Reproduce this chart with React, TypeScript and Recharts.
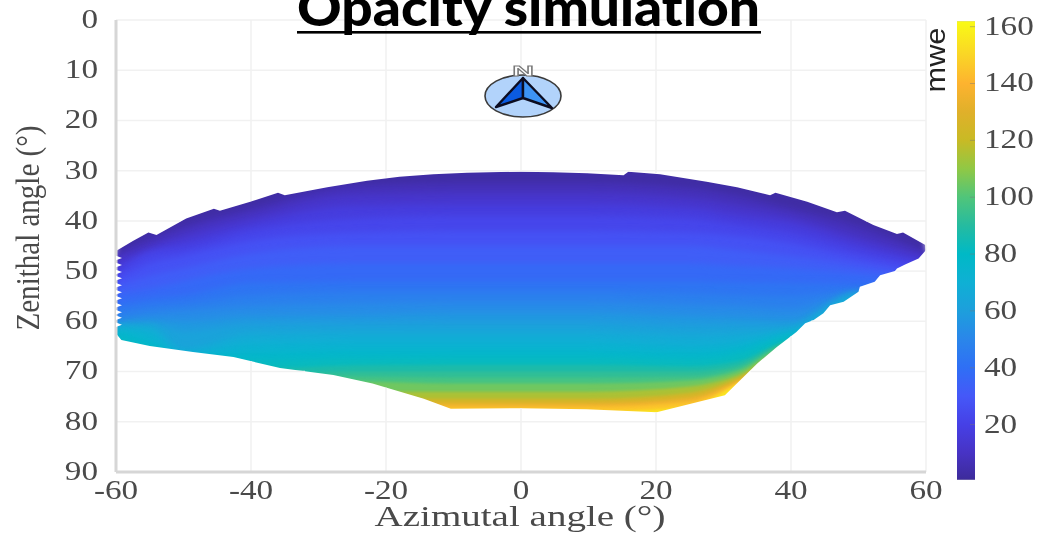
import { Area, ComposedChart, ReferenceLine, Scatter, XAxis, YAxis } from 'recharts'

const azimuthTicks = [-60, -40, -20, 0, 20, 40, 60]
const zenithTicks = [0, 10, 20, 30, 40, 50, 60, 70, 80, 90]
const mweTicks = [20, 40, 60, 80, 100, 120, 140, 160]

// azimuths where the iso-opacity contours were read
const contourAzimuths = [-60, -55, -50, -40, -25, -10, 0, 10, 25, 32, 40, 50, 60]
const contourLevels = [0, 5, 10, 15, 20, 25, 30, 35, 40, 45, 50, 55, 60, 65, 70, 75, 80, 85, 90, 95, 100, 110, 120, 130, 140, 150]
// zenith of each contour, one row per level
const contourZenith = [
  [25, 25, 25, 25, 25, 25, 25, 25, 25, 25, 25, 25, 25],
  [46.5, 43.5, 41, 37.5, 33, 32.5, 32.5, 32.5, 33.5, 35, 37.5, 41, 46],
  [47.5, 45, 42.5, 39, 34.8, 34.5, 34.5, 34.5, 35.5, 37, 39, 43, 47],
  [49, 45.8, 44, 40.5, 37, 36.7, 36.7, 36.7, 37.5, 39, 40.5, 44.5, 48],
  [50.5, 46.5, 45.5, 42, 39.5, 39, 39, 39, 39.5, 40.8, 42.5, 46, 49],
  [51.8, 48.5, 47, 44, 42.3, 42, 42, 42, 42.3, 43, 44.5, 47.5, 50],
  [53, 51, 49.5, 46.5, 45, 45, 45, 45, 45, 45.8, 47, 49, 51],
  [54.5, 53.5, 52, 49.5, 48.5, 48.5, 48.5, 48.5, 48.5, 49, 49.5, 50.5, 52],
  [56.5, 55.5, 54.8, 52.3, 52, 52, 52, 52, 52, 52.2, 52.3, 52.5, 53],
  [58, 57, 56.5, 54.8, 54.2, 54.2, 54.2, 54.2, 54.5, 54.8, 55, 53.8, 55],
  [59.5, 58.5, 58, 57, 56.5, 56.3, 56.3, 56.3, 56.8, 57, 57.5, 54, 56],
  [60.4, 59.8, 60, 59, 58.8, 58.4, 58.4, 58.4, 59, 59.2, 59.5, 54.3, 57],
  [60.8, 60.5, 62, 60.7, 60.5, 60.4, 60.4, 60.4, 61, 60.8, 60.8, 54.6, 58],
  [61, 61.1, 65.5, 62.5, 62.2, 62.2, 62.2, 62.2, 62.8, 62.5, 61.4, 55, 59],
  [61.4, 62.2, 66.5, 64.3, 64, 64, 64, 64, 64.8, 64.2, 62, 60, 60],
  [62, 64, 67, 66.2, 65.8, 65.8, 65.8, 65.8, 66.3, 65.5, 62.7, 61, 61],
  [63.7, 65.5, 68, 68, 67.5, 67.4, 67.4, 67.4, 67.8, 66.8, 63.3, 62, 62],
  [65, 66, 69, 69.5, 68.8, 68.7, 68.7, 68.7, 69, 68, 63.8, 63, 63],
  [66, 67, 70, 71, 70, 70, 70, 70, 70, 68.8, 64.2, 64, 64],
  [67, 68, 71, 72, 71, 71.2, 71.2, 71.2, 71, 69.5, 64.6, 65, 65],
  [68, 69, 72, 73, 72, 72.4, 72.4, 72.4, 71.8, 70, 65, 66, 66],
  [69, 70, 73, 74, 74, 74, 74, 74, 73, 70.8, 65.4, 67, 67],
  [70, 71, 74, 75, 75.4, 75.4, 75.4, 75.4, 74.2, 71.4, 65.8, 68, 68],
  [71, 72, 75, 76, 76.3, 76.3, 76.3, 76.3, 75.2, 71.9, 66.1, 69, 69],
  [72, 73, 76, 77, 77, 77, 77, 77, 76, 72.3, 66.4, 70, 70],
  [73, 74, 77, 78, 78, 78, 78, 78, 77, 72.6, 66.7, 71, 71],
]

// outline of the simulated region
const topAzimuths = [-60, -57.5, -55.2, -54, -49.6, -45.5, -44.6, -40.1, -36, -35, -28.7, -22.8, -18, -13, -8, 0, 4.8, 9.8, 15.2, 15.9, 20.6, 27.5, 32, 36.9, 37.7, 42.4, 46.8, 48, 52.2, 55.7, 56.6, 59.9, 60]
const topZenith = [46, 44, 42.3, 42.8, 39.5, 37.6, 38, 36.2, 34.4, 34.9, 33.3, 32, 31.2, 30.7, 30.4, 30.2, 30.3, 30.5, 30.9, 30.2, 30.7, 32.2, 33.3, 34.9, 34.4, 36.2, 38.3, 38, 40.8, 42.6, 42.3, 44.8, 45.8]
const bottomAzimuths = [-60, -59.2, -55, -48.6, -42.6, -35.7, -27.8, -22, -14.4, -10.4, 0, 9.7, 20.1, 30.2, 35, 37.9, 40.8, 42.1, 43.3, 44.8, 45.8, 47.8, 50, 50.2, 52.4, 53.2, 55.4, 55.7, 56.9, 58.9, 60]
const bottomZenith = [62.4, 63.7, 64.9, 66.1, 67.1, 69.3, 70.7, 72.4, 75.4, 77.4, 77.3, 77.5, 78.1, 74.7, 68.4, 65.1, 62.1, 60.4, 59.8, 58.4, 56.8, 56.1, 54.1, 53.1, 52.1, 50.8, 50, 49.5, 48.7, 47.5, 45.8]
const leftTeeth = [47.4, 48.8, 50.2, 51.4, 52.8, 54.2, 55.4, 56.8, 58.2, 59.3, 60.7]

// grid pieces left visible around the region: [fixed value, from, to]
const gridRows = [[0, -60, 60], [10, -60, 60], [20, -60, 60], [30, -60, 60], [40, -60, -50.5], [40, 51.2, 60], [50, 55.6, 60], [60, 43, 60], [70, -60, -32], [70, 34, 60], [80, -60, 60]]
const gridColumns = [[-40, 0, 36], [-40, 67.9, 90], [-20, 0, 31.4], [-20, 73.2, 90], [0, 0, 30], [0, 77.3, 90], [20, 0, 30.5], [20, 78.1, 90], [40, 0, 35.2], [40, 63, 90], [60, 0, 90]]

const colorStops: [number, string][] = [
  [0, '#3d2b9a'], [10, '#4733c4'], [20, '#4640e6'], [30, '#4558f8'], [40, '#2f6ff5'], [50, '#2a86ea'],
  [60, '#1d9fdc'], [70, '#0fb0d4'], [80, '#00b9c6'], [90, '#25bba0'], [100, '#50c57a'], [110, '#90c845'],
  [120, '#c8ba25'], [130, '#e0b02a'], [140, '#fdb32f'], [150, '#fad526'], [162, '#f9fb15'],
]

function hex(c: string) {
  return [1, 3, 5].map((i) => parseInt(c.slice(i, i + 2), 16))
}

function colorAt(v: number) {
  for (let i = 0; i < colorStops.length - 1; i++) {
    const [a, ca] = colorStops[i]
    const [b, cb] = colorStops[i + 1]
    if (v <= b) {
      const t = (v - a) / (b - a)
      const x = hex(ca)
      const y = hex(cb)
      return `rgb(${x.map((p, k) => Math.round(p + (y[k] - p) * t)).join(',')})`
    }
  }
  return colorStops[colorStops.length - 1][1]
}

const bandData = contourAzimuths.map((az, col) => {
  const row: Record<string, number | number[]> = { az }
  contourLevels.forEach((_, i) => {
    row[`c${i}`] = [contourZenith[i][col], 90]
  })
  return row
})
const topMask = topAzimuths.map((az, i) => ({ az, span: [0, topZenith[i]] }))
const bottomMask = bottomAzimuths.map((az, i) => ({ az, span: [bottomZenith[i], 90] }))
const teeth = leftTeeth.map((z) => ({ az: -60, z }))
const barData = [{ x: 0, span: [0.5, 162] }, { x: 1, span: [0.5, 162] }]

const tickColor = '#4a4a4a'
const gridColor = '#f1f1f1'
const serif = '"Liberation Serif", serif'

function StretchedTick({ x, y, payload, anchor, dx, dy }: any) {
  return (
    <text
      transform={`translate(${x + (dx ?? 0)},${y + (dy ?? 0)}) scale(1.23,1)`}
      textAnchor={anchor}
      dominantBaseline="central"
      fontFamily={serif}
      fontSize={27}
      fill={tickColor}
    >
      {payload.value}
    </text>
  )
}

function Tooth({ cx, cy }: any) {
  return <path d={`M${cx - 2},${cy - 3}L${cx + 6},${cy}L${cx - 2},${cy + 3}Z`} fill="#fff" />
}

function Compass() {
  return (
    <g>
      <ellipse cx={523} cy={96} rx={38} ry={21} fill="#b2d3fb" stroke="#3a3a3a" strokeWidth={1.6} />
      <path d="M523,78L496,107L523,98Z" fill="#0b5be0" stroke="#0c0c20" strokeWidth={2.4} strokeLinejoin="round" />
      <path d="M523,78L552,108L523,98Z" fill="#3d93f5" stroke="#0c0c20" strokeWidth={2.4} strokeLinejoin="round" />
      <text transform="translate(523,76) scale(2,1)" textAnchor="middle" fontFamily='"Liberation Sans", sans-serif' fontWeight={700} fontSize={15} fill="#fff" stroke="#777" strokeWidth={0.8}>N</text>
    </g>
  )
}

export default function App() {
  return (
    <div style={{ position: 'absolute', left: 0, top: 0, width: 1038, height: 533, overflow: 'hidden', background: '#fff', filter: 'blur(0.55px)' }}>
      <div style={{ position: 'absolute', left: 0, top: 0 }}>
        <ComposedChart width={1038} height={533} data={bandData} margin={{ top: 20, right: 112, bottom: 21, left: 56 }}>
          <XAxis
            dataKey="az"
            type="number"
            domain={[-60, 60]}
            ticks={azimuthTicks}
            interval={0}
            height={40}
            allowDataOverflow
            stroke="#d6d6d6"
            strokeWidth={3}
            tickLine={false}
            tick={<StretchedTick anchor="middle" dy={10} />}
          />
          <YAxis
            type="number"
            domain={[0, 90]}
            ticks={zenithTicks}
            reversed
            interval={0}
            width={60}
            allowDataOverflow
            stroke="#d6d6d6"
            strokeWidth={3}
            tickLine={false}
            tick={<StretchedTick anchor="end" dx={-10} dy={-1} />}
          />
          {contourLevels.map((level, i) => (
            <Area
              key={level}
              dataKey={`c${i}`}
              type="monotone"
              fill={colorAt(level + (i < contourLevels.length - 1 ? (contourLevels[i + 1] - level) / 2 : 5))}
              fillOpacity={1}
              stroke="none"
              dot={false}
              activeDot={false}
              isAnimationActive={false}
              style={{ filter: `blur(${level < 85 ? 3 : 1.4}px)` }}
            />
          ))}
          <Area data={topMask} dataKey="span" type="linear" fill="#fff" fillOpacity={1} stroke="none" dot={false} activeDot={false} isAnimationActive={false} />
          <Area data={bottomMask} dataKey="span" type="linear" fill="#fff" fillOpacity={1} stroke="none" dot={false} activeDot={false} isAnimationActive={false} />
          <Scatter data={teeth} dataKey="z" shape={<Tooth />} isAnimationActive={false} />
          {gridRows.map(([z, from, to]) => (
            <ReferenceLine key={`r${z}${from}`} segment={[{ x: from, y: z }, { x: to, y: z }]} stroke={gridColor} strokeWidth={1.5} ifOverflow="visible" />
          ))}
          {gridColumns.map(([az, from, to]) => (
            <ReferenceLine key={`c${az}${from}`} segment={[{ x: az, y: from }, { x: az, y: to }]} stroke={gridColor} strokeWidth={1.5} ifOverflow="visible" />
          ))}
        </ComposedChart>
      </div>

      <div style={{ position: 'absolute', left: 957, top: 0 }}>
        <ComposedChart width={81} height={533} data={barData} margin={{ top: 21, right: 0, bottom: 53, left: 0 }}>
          <defs>
            <linearGradient id="mweBar" x1="0" y1="1" x2="0" y2="0">
              {colorStops.map(([v, c]) => (
                <stop key={v} offset={(v - 0.5 < 0 ? 0 : v - 0.5) / 161.5} stopColor={c} />
              ))}
            </linearGradient>
          </defs>
          <XAxis dataKey="x" type="number" domain={[0, 1]} hide />
          <YAxis
            orientation="right"
            type="number"
            domain={[0.5, 162]}
            ticks={mweTicks}
            interval={0}
            width={63}
            allowDataOverflow
            axisLine={false}
            tickLine={false}
            tick={<StretchedTick anchor="start" dx={1} dy={-1} />}
          />
          <Area dataKey="span" type="linear" fill="url(#mweBar)" fillOpacity={1} stroke="#c9c9c9" strokeWidth={0.6} dot={false} activeDot={false} isAnimationActive={false} />
          {mweTicks.map((v) => (
            <ReferenceLine key={v} segment={[{ x: 0.72, y: v }, { x: 1, y: v }]} stroke="#777" strokeOpacity={0.45} strokeWidth={1} />
          ))}
        </ComposedChart>
      </div>

      <svg width={1038} height={533} style={{ position: 'absolute', left: 0, top: 0 }}>
        <text x={297} y={26} fontFamily="Lato, sans-serif" fontWeight={900} fontSize={52} fill="#000" textLength={463} lengthAdjust="spacingAndGlyphs" style={{ fontVariantLigatures: 'none' }}>Opacity simulation</text>
        <rect x={297} y={31} width={464} height={2.6} fill="#000" />
        <Compass />
        <text x={520} y={526} textAnchor="middle" fontFamily={serif} fontSize={29.5} fill={tickColor} textLength={291} lengthAdjust="spacingAndGlyphs">Azimutal angle (°)</text>
        <text transform="translate(39,228) rotate(-90) scale(1,1.3)" textAnchor="middle" fontFamily={serif} fontSize={26} fill={tickColor} textLength={205} lengthAdjust="spacingAndGlyphs">Zenithal angle (°)</text>
        <text transform="translate(945,60) rotate(-90)" textAnchor="middle" fontFamily='"Liberation Sans", sans-serif' fontSize={27} fill="#222" textLength={65} lengthAdjust="spacingAndGlyphs">mwe</text>
      </svg>
    </div>
  )
}
